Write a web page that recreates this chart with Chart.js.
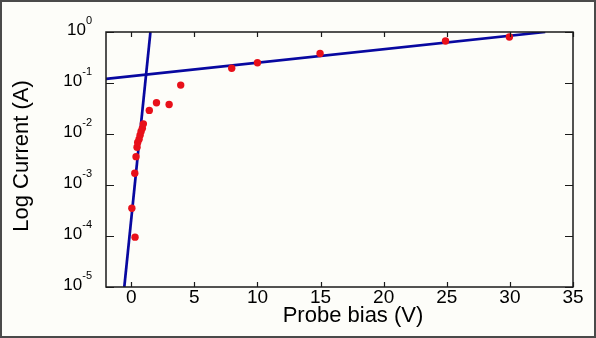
<!DOCTYPE html>
<html>
<head>
<meta charset="utf-8">
<script src="https://cdn.jsdelivr.net/npm/chart.js@4.4.1/dist/chart.umd.min.js"></script>
<style>
  html, body { margin: 0; padding: 0; background: #fdfdf9; }
  #box { width: 596px; height: 338px; }
</style>
</head>
<body>
<div id="box"><canvas id="probeChart" width="596" height="338"></canvas></div>
<script>
// measured points (probe bias in V, current in A)
const biasV = [0.05, 0.3, 0.28, 0.38, 0.46, 0.51, 0.62, 0.7, 0.78, 0.88, 0.96, 1.43, 2.0, 3.0, 3.92, 7.96, 10.0, 14.96, 24.9, 29.96];
const currentA = [3.5e-4, 9.5e-5, 1.7e-3, 3.6e-3, 5.5e-3, 6.8e-3, 7.9e-3, 9.5e-3, 0.0112, 0.0129, 0.0158, 0.029, 0.041, 0.038, 0.091, 0.195, 0.25, 0.38, 0.665, 0.8];

// fitted lines (end points)
const steepFitV = [-0.55, 1.52];
const steepFitA = [1e-5, 1];
const flatFitV = [-2, 32.8];
const flatFitA = [0.12, 1];

// axes
const xTicks = [0, 5, 10, 15, 20, 25, 30, 35];
const yExponents = [0, -1, -2, -3, -4, -5];

const pts = (xs, ys) => xs.map((x, i) => ({ x: x, y: ys[i] }));

// MATLAB style frame, inward ticks, 10^n labels and axis titles
const matlabAxes = {
  id: 'matlabAxes',
  beforeDraw(chart) {
    const ctx = chart.ctx;
    ctx.save();
    ctx.fillStyle = '#fdfdf9';
    ctx.fillRect(0, 0, chart.width, chart.height);
    ctx.restore();
  },
  afterDraw(chart) {
    const ctx = chart.ctx;
    const a = chart.chartArea;
    const xs = chart.scales.x, ys = chart.scales.y;
    ctx.save();
    ctx.strokeStyle = '#1a1a1a';
    ctx.lineWidth = 1.5;
    ctx.strokeRect(a.left, a.top, a.right - a.left, a.bottom - a.top);
    ctx.lineWidth = 1.2;
    ctx.beginPath();
    xTicks.forEach(v => {
      const px = Math.round(xs.getPixelForValue(v)) + 0.5;
      ctx.moveTo(px, a.bottom); ctx.lineTo(px, a.bottom - 5);
      ctx.moveTo(px, a.top); ctx.lineTo(px, a.top + 5);
    });
    yExponents.forEach(e => {
      const py = Math.round(ys.getPixelForValue(Math.pow(10, e))) + 0.5;
      ctx.moveTo(a.left, py); ctx.lineTo(a.left + 8, py);
      ctx.moveTo(a.right, py); ctx.lineTo(a.right - 8, py);
    });
    ctx.stroke();

    // y tick labels 10^n
    ctx.fillStyle = '#000';
    ctx.textAlign = 'left';
    yExponents.forEach(e => {
      const py = ys.getPixelForValue(Math.pow(10, e));
      const sup = e === 0 ? '0' : '-' + Math.abs(e);
      ctx.font = '11px "Liberation Sans", Arial, sans-serif';
      const wSup = ctx.measureText(sup).width;
      ctx.font = '17px "Liberation Sans", Arial, sans-serif';
      const wBase = ctx.measureText('10').width;
      const right = 92;
      ctx.textBaseline = 'alphabetic';
      ctx.fillText('10', right - wSup - wBase, py + 3);
      ctx.font = '11px "Liberation Sans", Arial, sans-serif';
      ctx.fillText(sup, right - wSup, py - 8);
    });

    // axis titles
    ctx.font = '22px "Liberation Sans", Arial, sans-serif';
    ctx.textAlign = 'center';
    ctx.textBaseline = 'middle';
    ctx.fillText('Probe bias (V)', 353, 316);
    ctx.translate(22, 156);
    ctx.rotate(-Math.PI / 2);
    ctx.fillText('Log Current (A)', 0, 0);
    ctx.restore();

    // outer picture border
    ctx.save();
    ctx.strokeStyle = '#4a4a4a';
    ctx.lineWidth = 2;
    ctx.strokeRect(1, 1, chart.width - 2, chart.height - 2);
    ctx.restore();
  }
};

const ctx = document.getElementById('probeChart').getContext('2d');
const probeChart = new Chart(ctx, {
  type: 'scatter',
  data: {
    datasets: [
      {
        label: 'Measured',
        data: pts(biasV, currentA),
        backgroundColor: '#e8101a',
        borderColor: '#e8101a',
        pointRadius: 3.7,
        pointBorderWidth: 0,
        showLine: false,
        order: 1
      },
      {
        label: 'Fit 1',
        data: pts(steepFitV, steepFitA),
        showLine: true,
        borderColor: '#0808a0',
        borderWidth: 2.7,
        pointRadius: 0,
        order: 2
      },
      {
        label: 'Fit 2',
        data: pts(flatFitV, flatFitA),
        showLine: true,
        borderColor: '#0808a0',
        borderWidth: 2.7,
        pointRadius: 0,
        order: 2
      }
    ]
  },
  options: {
    responsive: false,
    animation: false,
    layout: { padding: { left: 0, right: 23, top: 32, bottom: 0 } },
    plugins: {
      legend: { display: false },
      tooltip: { enabled: false }
    },
    scales: {
      x: {
        type: 'linear',
        min: -2,
        max: 35,
        grid: { display: false, drawTicks: false },
        border: { display: false },
        afterBuildTicks: (s) => { s.ticks = xTicks.map(v => ({ value: v })); },
        afterFit: (s) => { s.height = 51; },
        ticks: {
          padding: -1,
          color: '#000',
          maxRotation: 0,
          font: { family: '"Liberation Sans", Arial, sans-serif', size: 19 }
        }
      },
      y: {
        type: 'logarithmic',
        min: 1e-5,
        max: 1,
        grid: { display: false, drawTicks: false },
        border: { display: false },
        afterBuildTicks: (s) => { s.ticks = yExponents.map(e => ({ value: Math.pow(10, e) })); },
        afterFit: (s) => { s.width = 106; },
        ticks: { display: false }
      }
    }
  },
  plugins: [matlabAxes]
});
</script>
</body>
</html>
